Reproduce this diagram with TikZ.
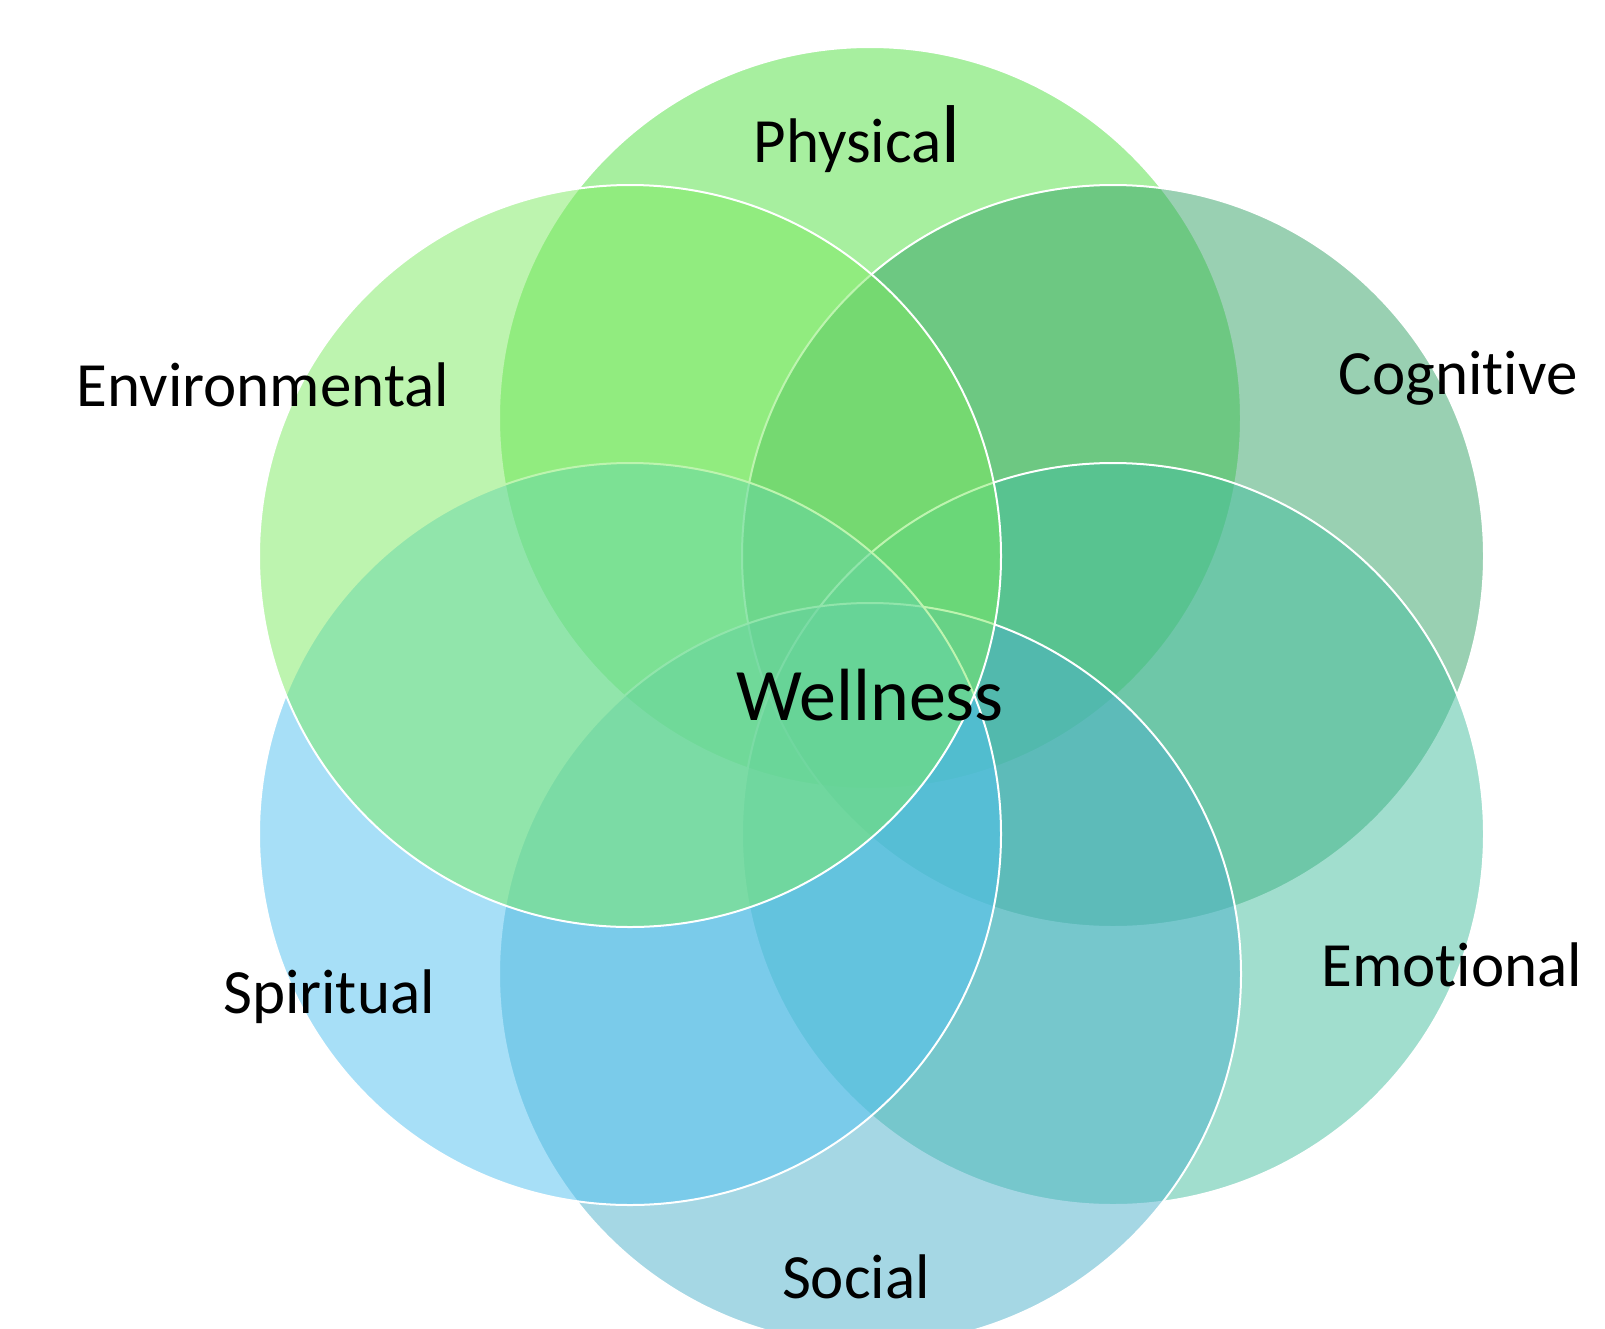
\documentclass[tikz,border=0pt]{standalone}
\usepackage{fontspec}
\setmainfont{Carlito}[Ligatures=NoCommon]
\usepackage{tikz}
\definecolor{physgreen}{HTML}{51E141}
\definecolor{coggreen}{HTML}{35A367}
\definecolor{emoteal}{HTML}{45BF9F}
\definecolor{socblue}{HTML}{4DB1CB}
\definecolor{spirblue}{HTML}{51C1F1}
\definecolor{envgreen}{HTML}{7DEB61}
\tikzset{every node/.style={text=black},
  petal/.style={draw=white,line width=1pt,fill opacity=0.5,draw opacity=1},
  petallabel/.style={inner sep=0pt,outer sep=0pt,anchor=base}}
\newcommand{\fL}{\fontsize{31.5}{38}\selectfont}
\newcommand{\fBig}{\fontsize{41}{49}\selectfont}
\newcommand{\fW}{\fontsize{37}{44}\selectfont}

\begin{document}
\begin{tikzpicture}[x=0.5pt,y=-0.5pt]
  \clip (0,0) rectangle (1605,1328);
  \fill[white] (0,0) rectangle (1605,1328);

  % six petals on a hexagon of radius 278 round (870,696), clockwise from the top
  \filldraw[petal,fill=physgreen] (870,418) circle[radius=371];
  \filldraw[petal,fill=coggreen] (1113,556) circle[radius=371];
  \filldraw[petal,fill=emoteal] (1113,834) circle[radius=371];
  \filldraw[petal,fill=socblue] (870,974) circle[radius=371];
  \filldraw[petal,fill=spirblue] (630,834) circle[radius=371];
  \filldraw[petal,fill=envgreen] (630,556) circle[radius=371];

  % labels
  \node[petallabel] (physical) at (857,162) {\fL Physica{\fBig l}};
  \node[petallabel] (cognitive) at (1458,394) {\fL Cognitive};
  \node[petallabel] (emotional) at (1452,986) {\fL Emotional};
  \node[petallabel] (social) at (856,1298) {\fL Social};
  \node[petallabel] (spiritual) at (329,1013) {\fL Spiritual};
  \node[petallabel] (environmental) at (263,406) {\fL Environmental};
  \node[petallabel] (wellness) at (870,720) {\fW Wellness};
\end{tikzpicture}
\end{document}
